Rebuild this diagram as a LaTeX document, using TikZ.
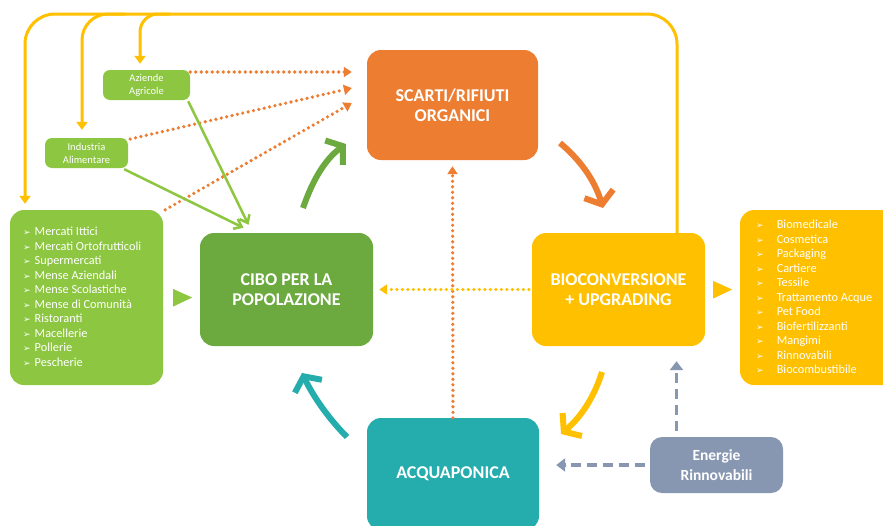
\documentclass[tikz,border=0pt]{standalone}
\usepackage{fontspec}
\setmainfont{Carlito}
\newfontfamily\dejavu{DejaVu Sans}
\usetikzlibrary{arrows.meta}
\definecolor{cOrange}{HTML}{ED7D31}
\definecolor{cGreen}{HTML}{6CAA40}
\definecolor{cLight}{HTML}{8DC641}
\definecolor{cYellow}{HTML}{FFC000}
\definecolor{cTeal}{HTML}{25ADAD}
\definecolor{cGrey}{HTML}{8797B2}
\newcommand{\bul}{{\dejavu\fontsize{9}{9}\selectfont ➢}}
\tikzset{
  bigbox/.style={rounded corners=14pt, text=white, align=center, inner sep=0pt,
    font=\bfseries\fontsize{18}{19.5}\selectfont},
  smallbox/.style={rounded corners=7pt, fill=cLight, text=white, align=center, inner sep=0pt,
    font=\fontsize{10.5}{13}\selectfont},
  listbox/.style={rounded corners=14pt, inner sep=0pt},
  listtext/.style={text=white, inner sep=0pt, align=left, font=\fontsize{12.3}{14.5}\selectfont},
  yline/.style={cYellow, line width=3pt, -{Triangle[length=8pt,width=11pt]}},
  odot/.style={cOrange, line width=3.6pt, line cap=round, dash pattern=on 0pt off 5.5pt,
    -{Triangle[length=8pt,width=10pt,line cap=butt]}},
  ydot/.style={cYellow, line width=3.6pt, line cap=round, dash pattern=on 0pt off 5.5pt,
    -{Triangle[length=8pt,width=10pt,line cap=butt]}},
  gthin/.style={cLight, line width=2.5pt, -{Straight Barb[length=7pt,width=11pt]}},
  gdash/.style={cGrey, line width=3.5pt, dash pattern=on 10pt off 6pt,
    -{Triangle[length=9pt,width=13pt]}},
  bigarrow/.style={line width=6pt, -{Straight Barb[length=11pt,width=30pt]}},
}
\begin{document}
\begin{tikzpicture}[x=1pt,y=-1pt]
\clip (0,0) rectangle (883,525);
\fill[white] (0,0) rectangle (883,525);

% main nodes
\node[bigbox, fill=cOrange, minimum width=171pt, minimum height=110pt] (scarti) at (452.5,105) {SCARTI/RIFIUTI\\ORGANICI};
\node[bigbox, fill=cGreen, minimum width=173pt, minimum height=113pt] (cibo) at (286.5,289.5) {CIBO PER LA\\POPOLAZIONE};
\node[bigbox, fill=cYellow, minimum width=173pt, minimum height=113pt] (bio) at (618.5,289.5) {BIOCONVERSIONE\\+ UPGRADING};
\node[bigbox, fill=cTeal, minimum width=172pt, minimum height=112pt] (acqua) at (453,474) {ACQUAPONICA};
\node[rounded corners=12pt, fill=cGrey, text=white, align=center, inner sep=0pt,
  minimum width=133pt, minimum height=56pt, font=\bfseries\fontsize{15.5}{20}\selectfont] (energie) at (716.5,465) {Energie\\Rinnovabili};

% small boxes
\node[smallbox, minimum width=87pt, minimum height=30pt] (aziende) at (146.5,85) {Aziende\\Agricole};
\node[smallbox, minimum width=83pt, minimum height=30pt] (industria) at (86.5,153) {Industria\\Alimentare};

% list boxes
\node[listbox, fill=cLight, minimum width=153pt, minimum height=175pt] (leftlist) at (86.5,297.5) {};
\node[listtext, anchor=west] (leftitems) at (23,298) {%
\begin{tabular}{@{}l@{\hspace{4pt}}l@{}}
\bul & Mercati Ittici\\
\bul & Mercati Ortofrutticoli\\
\bul & Supermercati\\
\bul & Mense Aziendali\\
\bul & Mense Scolastiche\\
\bul & Mense di Comunità\\
\bul & Ristoranti\\
\bul & Macellerie\\
\bul & Pollerie\\
\bul & Pescherie
\end{tabular}};

\node[listbox, fill=cYellow, minimum width=160pt, minimum height=175pt] (rightlist) at (820,297.5) {};
\node[listtext, anchor=west] (rightitems) at (756,298.5) {%
\begin{tabular}{@{}l@{\hspace{13pt}}l@{}}
\bul & Biomedicale\\
\bul & Cosmetica\\
\bul & Packaging\\
\bul & Cartiere\\
\bul & Tessile\\
\bul & Trattamento Acque\\
\bul & Pet Food\\
\bul & Biofertilizzanti\\
\bul & Mangimi\\
\bul & Rinnovabili\\
\bul & Biocombustibile
\end{tabular}};

% triangles
\fill[cLight] ([xshift=10pt,yshift=8.5pt]leftlist.east) -- ([xshift=29pt]leftlist.east) -- ([xshift=10pt,yshift=-9pt]leftlist.east) -- cycle;
\fill[cYellow] ([xshift=8pt,yshift=8.5pt]bio.east) -- ([xshift=27pt]bio.east) -- ([xshift=8pt,yshift=-9pt]bio.east) -- cycle;

% yellow feedback lines
\draw[yline, rounded corners=30pt] ([xshift=58.5pt]bio.north) -- (677,14) -- (25,14) -- ([xshift=-61.5pt,yshift=6pt]leftlist.north);
\draw[yline, rounded corners=26pt] (125,14) -| ([xshift=-4.5pt,yshift=8pt]industria.north);
\draw[yline, rounded corners=18pt] (170,14) -| ([xshift=-6.5pt,yshift=6pt]aziende.north);

% orange dotted to scarti
\draw[odot] ([yshift=13pt]aziende.east) -- ([xshift=-15pt,yshift=33pt]scarti.west);
\draw[odot] ([xshift=2pt,yshift=14pt]industria.east) -- ([xshift=-15pt,yshift=17pt]scarti.west);
\draw[odot] ([xshift=2pt]leftlist.north east) -- ([xshift=-15pt,yshift=2pt]scarti.west);
\draw[odot] (acqua.north) -- ([yshift=-6pt]scarti.south);

% yellow dotted bio -> cibo
\draw[ydot] ([xshift=-3pt]bio.west) -- ([xshift=6pt]cibo.east);

% green thin arrows
\draw[gthin] ([xshift=-2pt,yshift=-1pt]aziende.south east) -- ([xshift=-38pt,yshift=8pt]cibo.north);
\draw[gthin] ([xshift=-4pt,yshift=-1pt]industria.south east) -- ([xshift=-43pt,yshift=5pt]cibo.north);

% grey dashed
\draw[gdash] ([xshift=-5pt]energie.west) -- ([xshift=17pt,yshift=9pt]acqua.east);
\draw[gdash] ([xshift=-40pt,yshift=6pt]energie.north) -- ([xshift=58pt,yshift=-15pt]bio.south);

% big curved cycle arrows
\coordinate (g1) at (303,208); \coordinate (g2) at (346,144);
\coordinate (o1) at (560,143); \coordinate (o2) at (603,208);
\coordinate (y1) at (602,372); \coordinate (y2) at (561,434);
\coordinate (t1) at (347,437); \coordinate (t2) at (302,373);
\draw[bigarrow, cGreen] (g1) .. controls (312,182) and (324,160) .. (g2);
\draw[bigarrow, cOrange] (o1) .. controls (578,158) and (594,178) .. (o2);
\draw[bigarrow, cYellow] (y1) .. controls (594,398) and (580,418) .. (y2);
\draw[bigarrow, cTeal] (t1) .. controls (330,420) and (314,398) .. (t2);
\end{tikzpicture}
\end{document}
